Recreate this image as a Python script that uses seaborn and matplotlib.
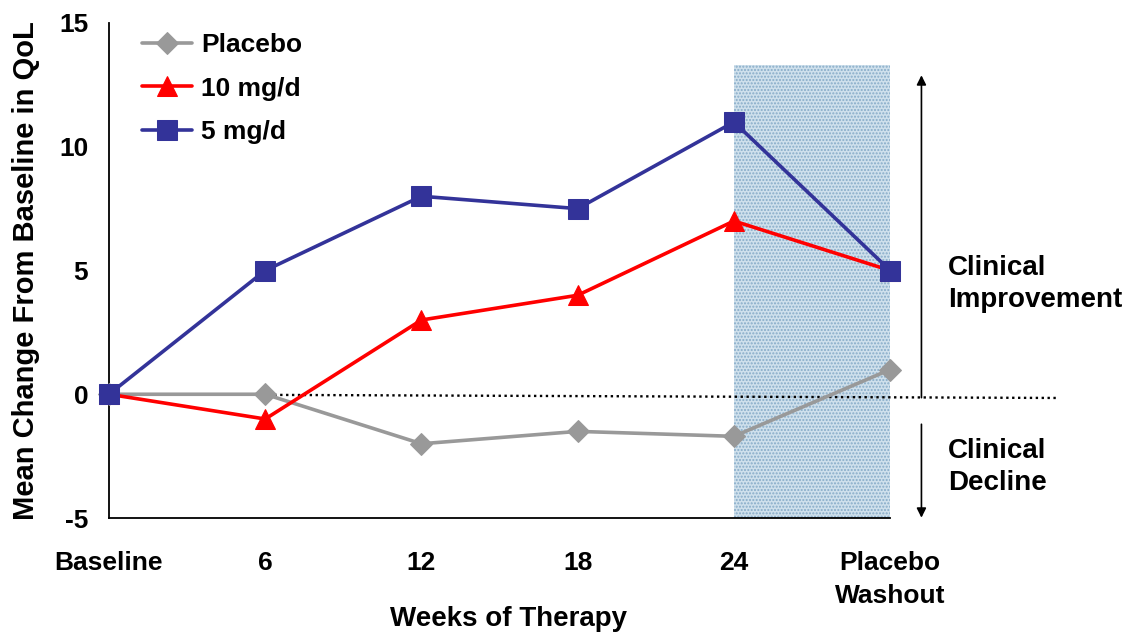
import matplotlib
matplotlib.use("Agg")
import matplotlib.pyplot as plt
import seaborn as sns
import pandas as pd

sns.set_style("white")
plt.rcParams['font.family'] = ['Liberation Sans', 'DejaVu Sans']
plt.rcParams['font.weight'] = 'bold'
plt.rcParams['text.color'] = 'black'
plt.rcParams['axes.labelcolor'] = 'black'
plt.rcParams['xtick.color'] = 'black'
plt.rcParams['ytick.color'] = 'black'
plt.rcParams['hatch.linewidth'] = 1.0

categories = ["Baseline", "6", "12", "18", "24", "Placebo\nWashout"]
placebo = [0, 0, -2, -1.5, -1.7, 1]
mg10 = [0, -1, 3, 4, 7, 5]
mg5 = [0, 5, 8, 7.5, 11, 5]
series_names = ["Placebo", "10 mg/d", "5 mg/d"]
shade_top = 13.3

pos = list(range(len(categories)))
df = pd.DataFrame({
    "x": pos * 3,
    "y": placebo + mg10 + mg5,
    "series": [series_names[0]] * 6 + [series_names[1]] * 6 + [series_names[2]] * 6,
})

fig = plt.figure(figsize=(11.34, 6.37), dpi=100)
ax = fig.add_axes([0.0961, 0.1868, 0.6889, 0.7771])

# shaded washout region
ax.fill_between([4, 5], -5, shade_top, facecolor='#cfe0ec', edgecolor='#86abc8',
                hatch='.....', linewidth=0, zorder=0)

palette = {"Placebo": "#999999", "10 mg/d": "#ff0000", "5 mg/d": "#333399"}
markers = {"Placebo": "D", "10 mg/d": "^", "5 mg/d": "s"}
sizes = {"Placebo": 11, "10 mg/d": 15, "5 mg/d": 15}
for name in series_names:
    sub = df[df.series == name]
    sns.lineplot(data=sub, x="x", y="y", ax=ax, color=palette[name], marker=markers[name],
                 markersize=sizes[name], markeredgecolor=palette[name], linewidth=2.6,
                 label=name, zorder=3, clip_on=False)

# dotted zero line extending beyond axes
ax.plot([0, 6.07], [0, -0.15], color='black', linestyle=(0, (1, 1.5)), linewidth=1.7,
        clip_on=False, zorder=2)

ax.set_xlim(0, 5)
ax.set_ylim(-5, 15)
ax.set_yticks([-5, 0, 5, 10, 15])
ax.set_yticklabels(["-5", "0", "5", "10", "15"])
ax.set_xticks(pos)
ax.set_xticklabels(categories, fontsize=19, fontweight='bold', va='top', linespacing=1.45)
ax.tick_params(axis='x', direction='in', length=7, width=1.2, pad=24, labelsize=19)
ax.tick_params(axis='y', direction='out', length=8, width=1.2, pad=7, labelsize=19)
for lab in ax.get_yticklabels():
    lab.set_fontweight('bold')

sns.despine(ax=ax)
for s in ['left', 'bottom']:
    ax.spines[s].set_linewidth(1.3)
    ax.spines[s].set_color('black')

ax.set_xlabel("")
ax.set_ylabel("Mean Change From Baseline in QoL", fontsize=21, fontweight='bold')
ax.yaxis.set_label_coords(-0.088, 0.5)
fig.text(508 / 1134, 1 - 619 / 637, "Weeks of Therapy", fontsize=20, fontweight='bold',
         ha='center', va='center')

leg = ax.legend(loc='upper left', bbox_to_anchor=(0.012, 1.028), frameon=False, fontsize=19,
                labelspacing=0.75, handlelength=1.9, handletextpad=0.35)

# arrows
ax.annotate("", xy=(5.2, 13.0), xytext=(5.2, -0.25), xycoords='data',
            arrowprops=dict(arrowstyle='-|>', color='black', lw=1.2, mutation_scale=14),
            annotation_clip=False)
ax.annotate("", xy=(5.2, -5.1), xytext=(5.2, -1.1), xycoords='data',
            arrowprops=dict(arrowstyle='-|>', color='black', lw=1.2, mutation_scale=14),
            annotation_clip=False)

ax.text(5.37, 4.45, "Clinical\nImprovement", fontsize=20, fontweight='bold', ha='left',
        va='center', linespacing=1.3, clip_on=False)
ax.text(5.37, -2.95, "Clinical\nDecline", fontsize=20, fontweight='bold', ha='left',
        va='center', linespacing=1.3, clip_on=False)

fig.savefig("out.png", dpi=100)
